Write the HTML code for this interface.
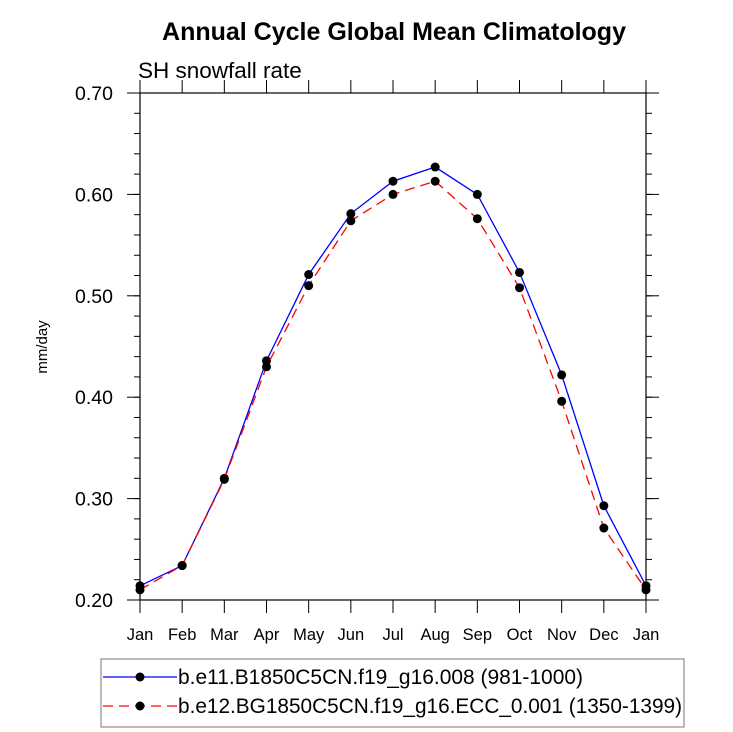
<!DOCTYPE html>
<html><head><meta charset="utf-8"><style>
body{margin:0;background:#fff;width:733px;height:732px;overflow:hidden}
svg{display:block;font-family:"Liberation Sans",Arial,sans-serif}
</style></head><body>
<svg id="chart" width="733" height="732">
<text x="394" y="40" text-anchor="middle" font-size="25" font-weight="bold">Annual Cycle Global Mean Climatology</text>
<text x="138" y="78" font-size="22.5">SH snowfall rate</text>
<text transform="translate(47,347) rotate(-90)" text-anchor="middle" font-size="15">mm/day</text>
<g id="axes"></g>
<g id="series"></g>
<rect x="101" y="659" width="583" height="68" fill="none" stroke="#777" stroke-width="1"/>
<g>
<line x1="103" y1="677" x2="177" y2="677" stroke="#0000ff" stroke-width="1.3"/>
<circle cx="140" cy="677" r="4.5" fill="#000"/>
<text x="178" y="684" font-size="21" textLength="405" lengthAdjust="spacingAndGlyphs">b.e11.B1850C5CN.f19_g16.008 (981-1000)</text>
</g>
<g>
<line x1="103" y1="706" x2="177" y2="706" stroke="#ff0000" stroke-width="1.3" stroke-dasharray="10,6"/>
<circle cx="140" cy="706" r="4.5" fill="#000"/>
<text x="178" y="713" font-size="21" textLength="504" lengthAdjust="spacingAndGlyphs">b.e12.BG1850C5CN.f19_g16.ECC_0.001 (1350-1399)</text>
</g>
</svg>
<script>
const months = ["Jan","Feb","Mar","Apr","May","Jun","Jul","Aug","Sep","Oct","Nov","Dec","Jan"];
const seriesBlue = [0.214,0.234,0.320,0.436,0.521,0.581,0.613,0.627,0.600,0.523,0.422,0.293,0.214];
const seriesRed = [0.210,0.234,0.319,0.430,0.510,0.574,0.600,0.613,0.576,0.508,0.396,0.271,0.210];
const yTicks = [0.2,0.3,0.4,0.5,0.6,0.7];
const yTickLabels = ["0.20","0.30","0.40","0.50","0.60","0.70"];
const L=140,R=646,T=93,B=600,ymin=0.2,ymax=0.7;
const xs=i=>L+(R-L)*i/(months.length-1);
const ys=v=>B-(B-T)*(v-ymin)/(ymax-ymin);
const NS="http://www.w3.org/2000/svg";
function mk(tag,attrs,parent){const e=document.createElementNS(NS,tag);for(const k in attrs)e.setAttribute(k,attrs[k]);parent.appendChild(e);return e;}
const ax=document.getElementById('axes');
const frame=mk('rect',{x:L,y:T,width:R-L,height:B-T,fill:'none',stroke:'#000','stroke-width':1.2},ax);


months.forEach((m,i)=>{
  const x=xs(i);
  mk('line',{x1:x,y1:B,x2:x,y2:B+13,stroke:'#000','stroke-width':1},ax);
  mk('line',{x1:x,y1:T,x2:x,y2:T-13,stroke:'#000','stroke-width':1},ax);
  const t=mk('text',{x:x,y:640,'text-anchor':'middle','font-size':16.5},ax);
  t.textContent=m;
  
  
});
for(let v=0.2;v<=0.7001;v+=0.02){
  const y=ys(v);
  mk('line',{x1:L,y1:y,x2:L-6,y2:y,stroke:'#000','stroke-width':1},ax);
  mk('line',{x1:R,y1:y,x2:R+6,y2:y,stroke:'#000','stroke-width':1},ax);
}
yTicks.forEach((v,i)=>{
  const y=ys(v);
  mk('line',{x1:L,y1:y,x2:L-13,y2:y,stroke:'#000','stroke-width':1},ax);
  mk('line',{x1:R,y1:y,x2:R+13,y2:y,stroke:'#000','stroke-width':1},ax);
  const t=mk('text',{x:L-27,y:y+7,'text-anchor':'end','font-size':19.5},ax);
  t.textContent=yTickLabels[i];
  
  
});
const sg=document.getElementById('series');
function draw(data,color,dash,name){
  const g=mk('g',{},sg);
  
  
  const pts=data.map((v,i)=>xs(i)+','+ys(v)).join(' ');
  const attrs={points:pts,fill:'none',stroke:color,'stroke-width':1.3};
  if(dash)attrs['stroke-dasharray']=dash;
  mk('polyline',attrs,g);
  data.forEach((v,i)=>{
    const c=mk('circle',{cx:xs(i),cy:ys(v),r:4.5,fill:'#000'},g);
    
    
  });
}
draw(seriesBlue,'#0000ff',null,'series-blue');
draw(seriesRed,'#ff0000','10,6','series-red');
</script>
</body></html>
